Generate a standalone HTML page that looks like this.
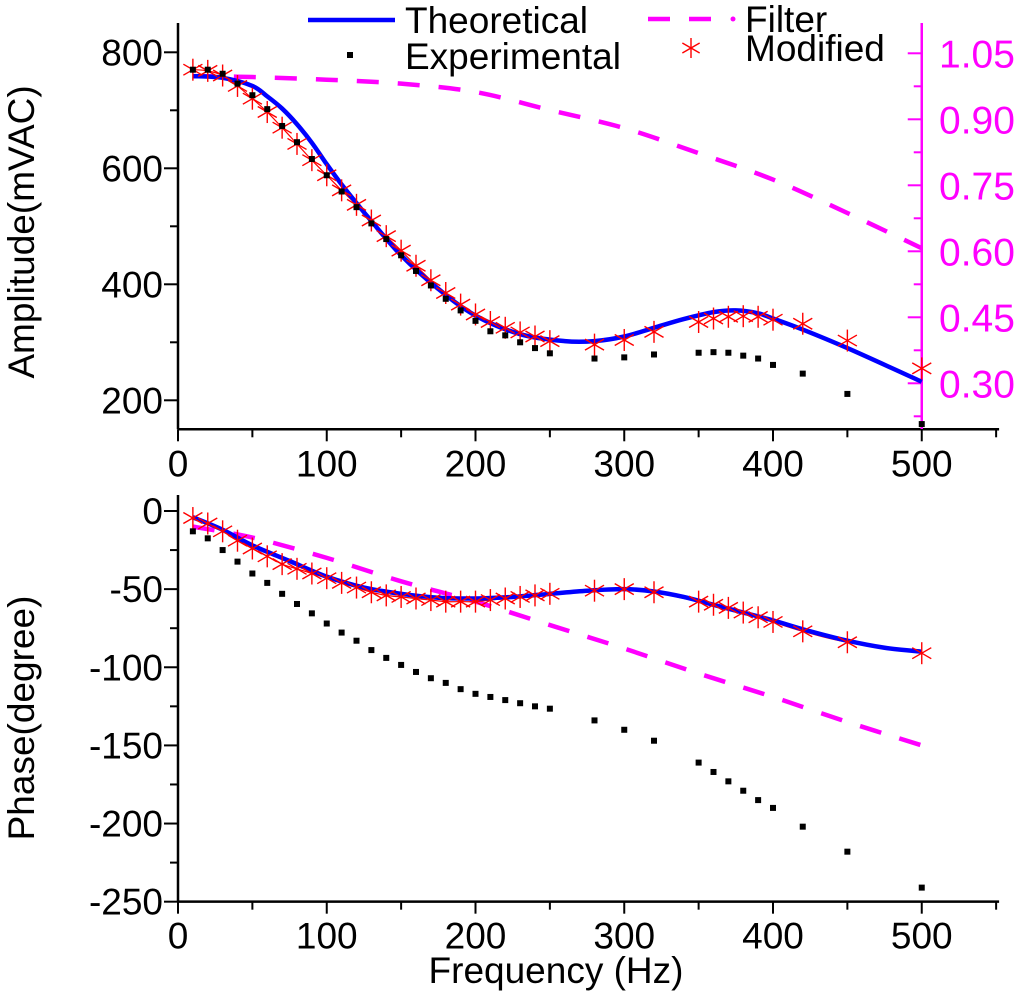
<!DOCTYPE html>
<html><head><meta charset="utf-8"><style>
html,body{margin:0;padding:0;background:#fff;}
svg text{font-family:"Liberation Sans",Arial,sans-serif;}
</style></head><body>
<svg id="chart" width="1024" height="999" viewBox="0 0 1024 999" xmlns="http://www.w3.org/2000/svg">
<g id="layer"></g>
</svg>
<script>
// ---- data ----
const freqExp = [10,20,30,40,50,60,70,80,90,100,110,120,130,140,150,160,170,180,190,200,210,220,230,240,250,280,300,320,350,360,370,380,390,400,420,450,500];
const ampExperimental = [770,770,763,746,726,702,673,645,616,588,560,533,505,478,450,423,398,375,355,337,319,312,300,290,281,272,274,279,282,283,282,277,272,261,246,211,159];
const ampModified = [770,768,760,742,720,697,670,642,614,588,562,537,510,483,458,432,407,385,365,348,335,325,317,310,302,296,304,318,335,341,344,345,344,339,332,303,255];
const freqTheo = [10,30,50,60,70,80,90,100,110,120,130,150,175,200,230,260,280,300,320,340,360,375,390,400,420,450,500];
const ampTheoretical = [759,756,742,724,703,676,644,607,572,540,509,450,392,346,314,302,302,310,325,340,352,355,350,341,322,290,232];
const freqFilter = [10,50,100,150,200,250,300,350,400,450,500];
const ampFilter = [0.998,0.996,0.990,0.981,0.962,0.921,0.880,0.823,0.763,0.687,0.607];
const phaseExperimental = [-13,-17.5,-25,-32.4,-40,-46,-53,-59.5,-65.5,-72,-77.8,-83,-89,-94,-98.5,-103,-107,-110,-114,-117,-119,-121,-123,-125,-126.5,-134,-140,-147,-161,-167,-173,-179,-185,-190,-202,-218,-241];
const phaseModified = [-4.5,-8,-13,-19,-24,-29,-34,-37,-40,-43,-46,-49,-52,-54,-55,-56,-57,-58,-58,-58,-57,-56,-55,-54,-53,-51,-50,-52,-58,-60,-62,-65,-68,-71,-77,-84,-91];
const freqTheoPh = [10,30,50,75,100,125,150,175,200,225,250,275,300,320,340,360,380,400,425,450,475,500];
const phaseTheoretical = [-4,-12,-22,-32,-42,-49,-53,-55.5,-56,-55,-53,-51,-50,-51.5,-55,-60,-65,-70,-77,-83,-87.5,-90];
const phaseFilter = [-10,-17,-30,-45,-58,-73,-88,-104,-119,-135,-150];
const xTicks = [0,100,200,300,400,500];
const ampTicks = [200,400,600,800];
const rightTicks = ["0.30","0.45","0.60","0.75","0.90","1.05"];
const phaseTicks = [0,-50,-100,-150,-200,-250];

// ---- scales ----
const X0=178, XS=1.4875;
const sx = v => X0 + v*XS;
const syA = v => 52.3 + (800-v)*0.58;
const syR = v => 53.3 + (1.05-v)/0.15*66;
const syP = v => 511 - v*1.5627;

const NS="http://www.w3.org/2000/svg";
const layer=document.getElementById('layer');
function mk(tag,attrs,parent){const e=document.createElementNS(NS,tag);for(const k in attrs)e.setAttribute(k,attrs[k]);(parent||layer).appendChild(e);return e;}

function spline(xs,ys){
  const p=xs.map((x,i)=>[x,ys[i]]);
  let d=`M${p[0][0]},${p[0][1]}`;
  for(let i=0;i<p.length-1;i++){
    const p0=p[Math.max(0,i-1)],p1=p[i],p2=p[i+1],p3=p[Math.min(p.length-1,i+2)];
    const c1=[p1[0]+(p2[0]-p0[0])/6,p1[1]+(p2[1]-p0[1])/6];
    const c2=[p2[0]-(p3[0]-p1[0])/6,p2[1]-(p3[1]-p1[1])/6];
    d+=` C${c1[0]},${c1[1]} ${c2[0]},${c2[1]} ${p2[0]},${p2[1]}`;
  }
  return d;
}
function star(g,cx,cy,r){
  for(let k=0;k<3;k++){const a=Math.PI/2+k*Math.PI/3;
    mk('line',{x1:cx-r*Math.cos(a),y1:cy-r*Math.sin(a),x2:cx+r*Math.cos(a),y2:cy+r*Math.sin(a),stroke:'#ff0000','stroke-width':1.4},g);}
}

const FS=37;
// ---- axes ----
function xAxis(yAx,name){
  const g=mk('g',{});
  
  
  mk('line',{x1:X0,y1:yAx,x2:sx(552),y2:yAx,stroke:'#000','stroke-width':2.5},g);
  for(let v=0;v<=550;v+=50){mk('line',{x1:sx(v),y1:yAx,x2:sx(v),y2:yAx+(v%100===0?12:8),stroke:'#000','stroke-width':2},g);}
  xTicks.forEach(v=>{const t=mk('text',{x:sx(v),y:yAx+47,'font-size':FS,'text-anchor':'middle'},g);t.textContent=v;});
}
(function(){
  const g=mk('g',{});
  
  
  mk('line',{x1:X0,y1:23,x2:X0,y2:syA(150),stroke:'#000','stroke-width':2.5},g);
  for(let v=200;v<=800;v+=100){mk('line',{x1:X0,y1:syA(v),x2:X0-(v%200===0?14:8),y2:syA(v),stroke:'#000','stroke-width':2},g);}
  ampTicks.forEach(v=>{const t=mk('text',{x:163,y:syA(v)+13,'font-size':FS,'text-anchor':'end'},g);t.textContent=v;});
})();
xAxis(429.3,'amplitude-x-axis');
(function(){
  const g=mk('g',{});
  
  
  const xr=sx(500);
  mk('line',{x1:xr,y1:23,x2:xr,y2:429,stroke:'#ff00ff','stroke-width':2.5},g);
  for(let v=0.225;v<=1.1;v+=0.075){const maj=Math.abs(((v-0.30)/0.15)-Math.round((v-0.30)/0.15))<0.01;
    mk('line',{x1:xr,y1:syR(v),x2:xr-(maj?14:8),y2:syR(v),stroke:'#ff00ff','stroke-width':2},g);}
  rightTicks.forEach(s=>{const t=mk('text',{x:939,y:syR(parseFloat(s))+14,'font-size':39,fill:'#ff00ff'},g);t.textContent=s;});
})();
(function(){
  const g=mk('g',{});
  
  
  mk('line',{x1:X0,y1:495,x2:X0,y2:syP(-250),stroke:'#000','stroke-width':2.5},g);
  for(let v=0;v>=-250;v-=25){mk('line',{x1:X0,y1:syP(v),x2:X0-(v%50===0?14:8),y2:syP(v),stroke:'#000','stroke-width':2},g);}
  phaseTicks.forEach(v=>{const t=mk('text',{x:163,y:syP(v)+13,'font-size':FS,'text-anchor':'end'},g);t.textContent=v;});
})();
xAxis(syP(-250),'phase-x-axis');

let t;
t=mk('text',{x:0,y:0,'font-size':FS,'text-anchor':'middle',transform:'translate(34,232) rotate(-90)'});t.textContent='Amplitude(mVAC)';


t=mk('text',{x:0,y:0,'font-size':FS,'text-anchor':'middle',transform:'translate(34,718) rotate(-90)'});t.textContent='Phase(degree)';


t=mk('text',{x:556,y:983,'font-size':FS,'text-anchor':'middle'});t.textContent='Frequency (Hz)';



// ---- series ----
function drawSet(name,ys,sy,kind,xs){
  const g=mk('g',{});
  
  
  if(kind==='sq'){xs.forEach((x,i)=>mk('rect',{x:sx(x)-3,y:sy(ys[i])-3,width:6,height:6,fill:'#000'},g));}
  else if(kind==='star'){xs.forEach((x,i)=>star(g,sx(x),sy(ys[i]),11));}
  else if(kind==='blue'){mk('path',{d:spline(xs.map(sx),ys.map(sy)),fill:'none',stroke:'#0000ff','stroke-width':4.5},g);}
  else if(kind==='filter'){mk('path',{d:spline(xs.map(sx),ys.map(sy)),fill:'none',stroke:'#ff00ff','stroke-width':4.5,'stroke-dasharray':'22 19'},g);}
  else if(kind==='thin'){mk('path',{d:spline(xs.map(sx),ys.map(sy)),fill:'none',stroke:'#ff0000','stroke-width':1.2},g);}
}
drawSet('amplitude-filter-line',ampFilter,syR,'filter',freqFilter);
drawSet('amplitude-modified-line',ampModified.slice(0,25),syA,'thin',freqExp.slice(0,25));
drawSet('amplitude-theoretical-line',ampTheoretical,syA,'blue',freqTheo);
drawSet('amplitude-modified-points',ampModified,syA,'star',freqExp);
drawSet('amplitude-experimental-points',ampExperimental,syA,'sq',freqExp);

drawSet('phase-filter-line',phaseFilter,syP,'filter',freqFilter);
drawSet('phase-modified-line',phaseModified,syP,'thin',freqExp);
drawSet('phase-theoretical-line',phaseTheoretical,syP,'blue',freqTheoPh);
drawSet('phase-modified-points',phaseModified,syP,'star',freqExp);
drawSet('phase-experimental-points',phaseExperimental,syP,'sq',freqExp);

// ---- legend ----
(function(){
  const g=mk('g',{});
  
  
  mk('line',{x1:308,y1:20,x2:395,y2:20,stroke:'#0000ff','stroke-width':4.5},g);
  let tx=mk('text',{x:405,y:33,'font-size':FS},g);tx.textContent='Theoretical';
  mk('rect',{x:347,y:52,width:6,height:6,fill:'#000'},g);
  tx=mk('text',{x:405,y:69,'font-size':FS},g);tx.textContent='Experimental';
  mk('line',{x1:648,y1:19,x2:713,y2:19,stroke:'#ff00ff','stroke-width':4.5,'stroke-dasharray':'22 19'},g);
  mk('circle',{cx:733,cy:19,r:2.5,fill:'#ff00ff'},g);
  tx=mk('text',{x:745,y:32,'font-size':FS},g);tx.textContent='Filter';
  star(g,691,48,10);
  tx=mk('text',{x:745,y:61,'font-size':FS},g);tx.textContent='Modified';
})();
</script>
</body></html>
